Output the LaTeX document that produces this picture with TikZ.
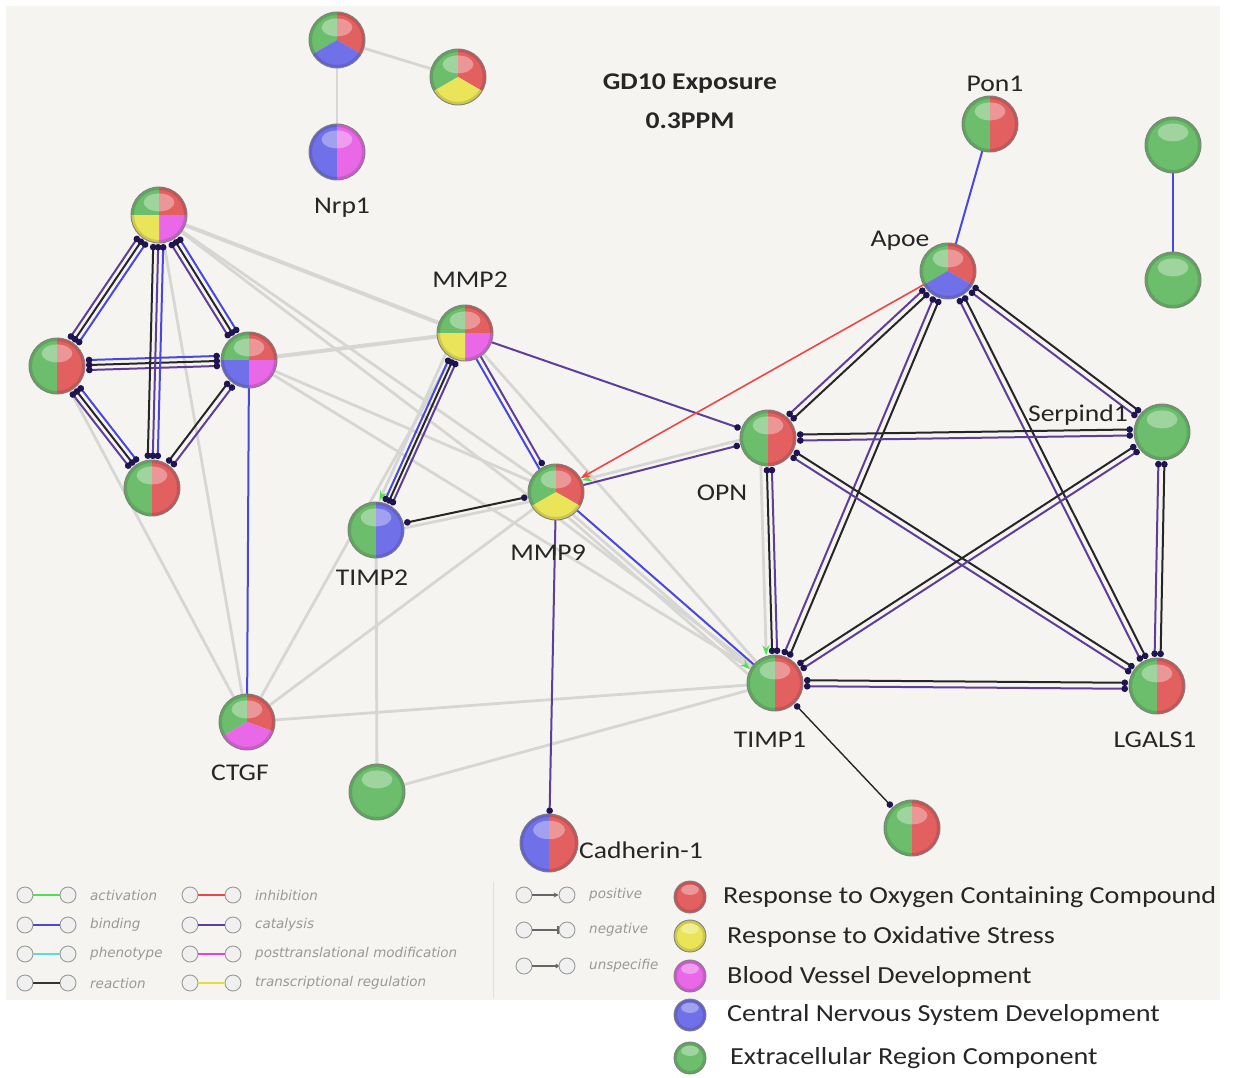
\documentclass[tikz,border=0pt]{standalone}
\usepackage{fontspec}
\setmainfont{Carlito}
\newfontfamily\lab[FakeStretch=1.15]{Carlito}
\newfontfamily\legfont{DejaVu Sans}
\usetikzlibrary{calc,arrows.meta}
\pgfdeclarelayer{bgfill}
\pgfdeclarelayer{edges}
\pgfsetlayers{bgfill,edges,main}
\definecolor{bg}{RGB}{245,244,240}
\definecolor{cgreen}{RGB}{108,190,108}
\definecolor{cred}{RGB}{226,96,96}
\definecolor{cyellow}{RGB}{234,228,88}
\definecolor{cmag}{RGB}{232,104,232}
\definecolor{cblue}{RGB}{112,112,232}
\definecolor{ecat}{RGB}{95,62,155}
\definecolor{ebind}{RGB}{72,72,222}
\definecolor{egray}{RGB}{214,214,210}
\definecolor{eact}{RGB}{80,225,80}
\definecolor{einh}{RGB}{238,70,70}
\definecolor{ephen}{RGB}{90,220,230}
\definecolor{eptm}{RGB}{235,60,235}
\definecolor{etr}{RGB}{225,225,60}
\definecolor{edot}{RGB}{30,20,80}
\tikzset{
  cat/.style={draw=ecat, line width=2pt},
  rea/.style={draw=black!85, line width=2pt},
  bind/.style={draw=ebind, line width=2pt},
  gry/.style={draw=egray, line width=2.8pt},
  inh/.style={draw=einh, line width=1.6pt},
  dd/.style={shorten <=29pt, shorten >=29pt, {Circle[length=6.5pt,color=edot]}-{Circle[length=6.5pt,color=edot]}},
  de/.style={shorten >=29pt, -{Circle[length=6.5pt,color=edot]}},
  posg/.style={shorten >=28pt, -{Stealth[length=10pt,width=7pt,color=eact]}},
  posr/.style={shorten >=28pt, -{Stealth[length=10pt,width=7pt]}},
  lbl/.style={font=\lab\fontsize{24}{28}\selectfont, text=black!85, inner sep=0pt},
  legt/.style={font=\legfont\itshape\fontsize{13.5}{15}\selectfont, text=black!40, anchor=west, inner sep=0pt},
  legball/.style={circle, minimum size=16pt, inner sep=0pt, draw=black!40, fill=black!6, line width=0.9pt},
  legr/.style={font=\lab\fontsize{24.5}{28}\selectfont, text=black!85, anchor=west, inner sep=0pt},
}
\newcommand\ball[4][28]{%
  \node[circle, minimum size=2*#1pt, inner sep=0pt] (#2) at (#3) {};
  \foreach \s/\e/\c in {#4}{\fill[\c] (#2.center) -- ++(\s:#1) arc[start angle=\s, end angle=\e, radius=#1] -- cycle;}
  \fill[white, opacity=.35] ($(#2.center)+(0,-0.45*#1)$) ellipse [x radius=0.55*#1, y radius=0.32*#1];
  \draw[black, opacity=.12, line width=3pt] (#2.center) circle [radius=#1-1.5];
  \draw[black!50, line width=0.9pt] (#2.center) circle [radius=#1];
}
\newcommand\ed[4]{\draw[#4] ($(#1.center)!#3!90:(#2.center)$) -- ($(#2.center)!#3!-90:(#1.center)$);}
\newcommand\legline[6]{%
  \node[legball] (#1a) at (#2,#3) {};
  \node[legball] (#1b) at (#2+43,#3) {};
  \draw[#4, line width=2.8pt, #5] (#1a) -- (#1b);
  \node[legt] at (#2+65,#3) {#6};
}
\begin{document}
\begin{tikzpicture}[x=1pt,y=-1pt]
\useasboundingbox (0,0) rectangle (1236,1078);
\begin{pgfonlayer}{bgfill}
\fill[white] (0,0) rectangle (1236,1078);
\fill[bg] (6,6) rectangle (1220,1000);
\end{pgfonlayer}

% ---------- nodes ----------
\ball{top1}{337,40}{150/270/cgreen,270/390/cred,30/150/cblue}
\ball{top2}{458,77}{150/270/cgreen,270/390/cred,30/150/cyellow}
\ball{Nrp1}{337,152}{90/270/cblue,-90/90/cmag}
\ball{Pon1}{990,124}{90/270/cgreen,-90/90/cred}
\ball{Apoe}{948,271}{150/270/cgreen,270/390/cred,30/150/cblue}
\ball{iso1}{1173,145}{0/360/cgreen}
\ball{iso2}{1173,280}{0/360/cgreen}
\ball{Ltop}{159,215}{180/270/cgreen,270/360/cred,0/90/cmag,90/180/cyellow}
\ball{Lleft}{57,366}{90/270/cgreen,-90/90/cred}
\ball{Lright}{249,360}{180/270/cgreen,270/360/cred,0/90/cmag,90/180/cblue}
\ball{Lbot}{152,488}{90/270/cgreen,-90/90/cred}
\ball{MMP2}{465,333}{180/270/cgreen,270/360/cred,0/90/cmag,90/180/cyellow}
\ball{TIMP2}{376,530}{90/270/cgreen,-90/90/cblue}
\ball{MMP9}{556,492}{150/270/cgreen,270/390/cred,30/150/cyellow}
\ball{OPN}{768,438}{90/270/cgreen,-90/90/cred}
\ball{Serp}{1162,432}{0/360/cgreen}
\ball{TIMP1}{775,683}{90/270/cgreen,-90/90/cred}
\ball{LGALS1}{1157,686}{90/270/cgreen,-90/90/cred}
\ball{CTGF}{247,722}{150/270/cgreen,270/380/cred,20/150/cmag}
\ball{G3}{377,792}{0/360/cgreen}
\ball[29]{Cad}{549,843}{90/270/cblue,-90/90/cred}
\ball{B}{912,828}{90/270/cgreen,-90/90/cred}

% ---------- labels ----------
\node[lbl] (tNrp1) at (342,208) {Nrp1};
\node[lbl] (tPon1) at (995,84) {Pon1};
\node[lbl] (tApoe) at (900,241) {Apoe};
\node[lbl] (tMMP2) at (470,280) {MMP2};
\node[lbl] (tTIMP2) at (372,578) {TIMP2};
\node[lbl] (tMMP9) at (548,553) {MMP9};
\node[lbl] (tOPN) at (722,493) {OPN};
\node[lbl] (tSerp) at (1078,415) {Serpind1};
\node[lbl] (tTIMP1) at (770,740) {TIMP1};
\node[lbl] (tLGALS1) at (1155,740) {LGALS1};
\node[lbl] (tCTGF) at (240,773) {CTGF};
\node[lbl, anchor=west] (tCad) at (579,850) {Cadherin-1};
\node[lbl, font=\lab\bfseries\fontsize{24}{28}\selectfont] (title1) at (690,84) {GD10 Exposure};
\node[lbl, font=\lab\bfseries\fontsize{24}{28}\selectfont] (title2) at (690,121) {0.3PPM};

% ---------- edges ----------
\begin{pgfonlayer}{edges}
\ed{top1}{top2}{0pt}{gry}
\ed{top1}{Nrp1}{0pt}{gry}
\ed{Ltop}{MMP2}{0pt}{gry, line width=4pt}
\ed{Ltop}{TIMP1}{0pt}{gry}
\ed{Ltop}{MMP9}{0pt}{gry}
\ed{Ltop}{CTGF}{0pt}{gry}
\ed{Lleft}{CTGF}{0pt}{gry}
\ed{Lright}{MMP2}{0pt}{gry, line width=4pt}
\ed{Lright}{MMP9}{0pt}{gry}
\ed{Lright}{TIMP1}{0pt}{gry}
\ed{CTGF}{MMP2}{0pt}{gry}
\ed{CTGF}{MMP9}{0pt}{gry}
\ed{CTGF}{TIMP1}{0pt}{gry}
\ed{G3}{TIMP2}{0pt}{gry}
\ed{G3}{TIMP1}{0pt}{gry}
\ed{MMP2}{TIMP1}{0pt}{gry}
\ed{TIMP2}{MMP9}{-4pt}{gry}
\ed{MMP9}{TIMP1}{-6pt}{gry, posg}
\ed{MMP9}{TIMP1}{-11pt}{gry}
\ed{MMP2}{TIMP2}{-9pt}{gry, posg}
\ed{OPN}{MMP9}{-5pt}{gry, posg}
\ed{OPN}{TIMP1}{-8pt}{gry, posg}
% left cluster
\foreach \a/\b in {Ltop/Lleft, Ltop/Lright, Lleft/Lright, Lleft/Lbot}{
  \ed{\a}{\b}{-5pt}{cat, dd}
  \ed{\a}{\b}{0pt}{rea, dd}
  \ed{\a}{\b}{5pt}{bind, dd}
}
\ed{Ltop}{Lbot}{-5pt}{rea, dd}
\ed{Ltop}{Lbot}{0pt}{cat, dd}
\ed{Ltop}{Lbot}{5pt}{bind, dd}
\ed{Lright}{Lbot}{-3pt}{rea, dd}
\ed{Lright}{Lbot}{3pt}{cat, dd}
\ed{Lright}{CTGF}{0pt}{bind}
% MMP2 / MMP9 / TIMP2
\ed{MMP2}{TIMP2}{-4pt}{bind, dd}
\ed{MMP2}{TIMP2}{0pt}{rea, dd}
\ed{MMP2}{TIMP2}{4pt}{cat, dd}
\ed{MMP2}{MMP9}{-3pt}{bind}
\ed{MMP2}{MMP9}{2pt}{cat, de}
\ed{MMP2}{OPN}{0pt}{cat, de}
\ed{TIMP2}{MMP9}{1pt}{rea, dd}
\ed{MMP9}{OPN}{0pt}{cat, de}
\ed{Apoe}{MMP9}{0pt}{inh, posr}
\ed{MMP9}{TIMP1}{0pt}{bind}
\ed{MMP9}{Cad}{0pt}{cat, de}
\ed{OPN}{TIMP1}{-2pt}{rea, dd}
\ed{OPN}{TIMP1}{3pt}{cat, dd}
% right cluster
\foreach \a/\b in {Apoe/OPN, Apoe/TIMP1, Apoe/Serp, Apoe/LGALS1, OPN/Serp, OPN/LGALS1, TIMP1/Serp, TIMP1/LGALS1, Serp/LGALS1}{
  \ed{\a}{\b}{-3pt}{cat, dd}
  \ed{\a}{\b}{3pt}{rea, dd}
}
\ed{Apoe}{Pon1}{0pt}{bind}
\ed{iso1}{iso2}{0pt}{bind}
\ed{TIMP1}{B}{0pt}{rea, line width=1.4pt, dd}
\end{pgfonlayer}

% ---------- legend (edges) ----------
\legline{la}{25}{895}{eact}{}{activation}
\legline{lb}{25}{925}{ebind}{}{binding}
\legline{lc}{25}{954}{ephen}{}{phenotype}
\legline{ld}{25}{983}{black!80}{}{reaction}
\legline{le}{190}{895}{einh}{}{inhibition}
\legline{lf}{190}{925}{ecat}{}{catalysis}
\legline{lg}{190}{954}{eptm}{}{posttranslational modification}
\legline{lh}{190}{983}{etr}{}{transcriptional regulation}
\draw[black!12, line width=1pt] (493,882) -- (493,998);
\legline{li}{524}{895}{black!60}{line width=1.2pt, -{Stealth[length=5pt,width=5pt]}}{positive}
\legline{lj}{524}{930}{black!60}{line width=1.2pt, -{Bar[width=8pt]}}{negative}
\legline{lk}{524}{966}{black!60}{line width=1.2pt, -{Circle[length=4pt]}}{unspecifie}

% ---------- legend (colours) ----------
\ball[16]{k1}{690,897}{0/360/cred}
\ball[16]{k2}{690,936}{0/360/cyellow}
\ball[16]{k3}{690,976}{0/360/cmag}
\ball[16]{k4}{690,1015}{0/360/cblue}
\ball[16]{k5}{690,1058}{0/360/cgreen}
\node[legr] (kt1) at (723,897) {Response to Oxygen Containing Compound};
\node[legr] (kt2) at (727,937) {Response to Oxidative Stress};
\node[legr] (kt3) at (727,977) {Blood Vessel Development};
\node[legr] (kt4) at (727,1015) {Central Nervous System Development};
\node[legr] (kt5) at (730,1058) {Extracellular Region Component};
\end{tikzpicture}
\end{document}
